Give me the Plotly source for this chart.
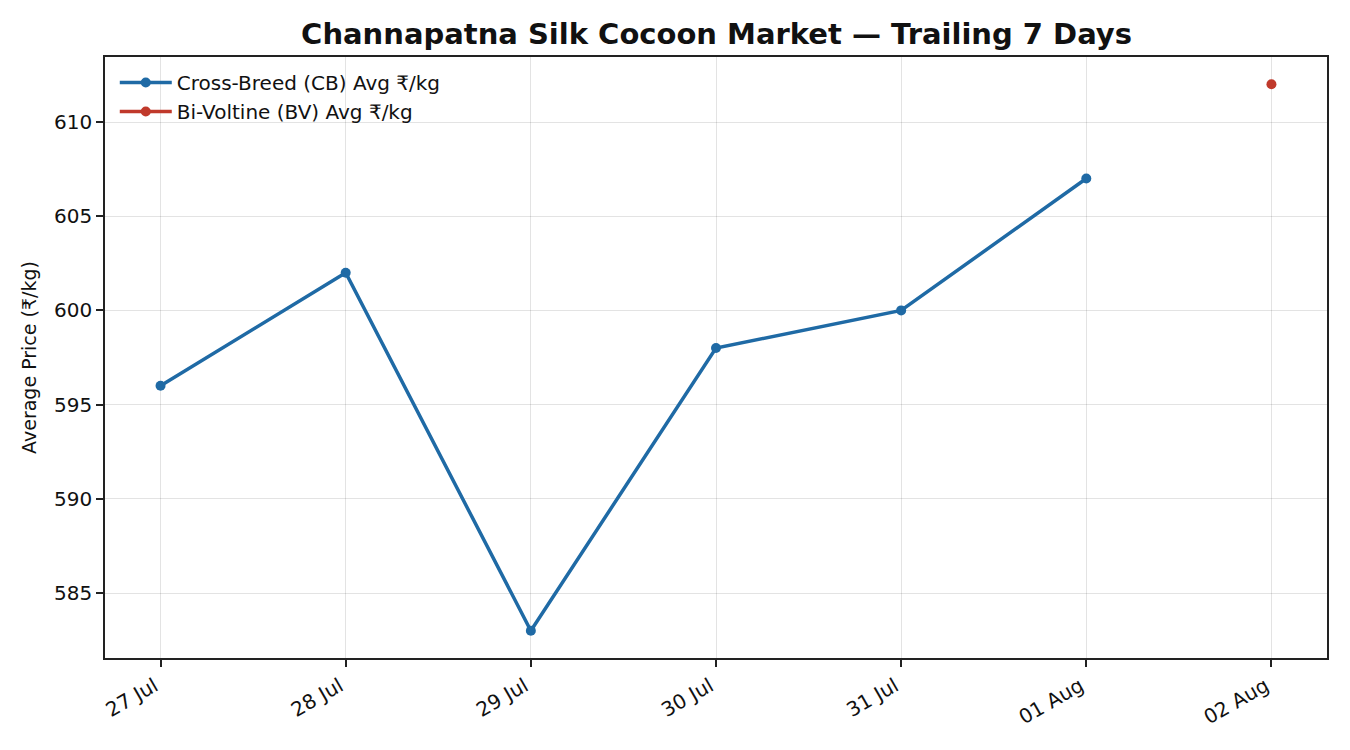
import plotly.graph_objects as go

dates = ["2024-07-27", "2024-07-28", "2024-07-29", "2024-07-30",
         "2024-07-31", "2024-08-01", "2024-08-02"]
cb_avg = [596, 602, 583, 598, 600, 607, None]
bv_avg = [None, None, None, None, None, None, 612]

blue = "#1f6aa5"
red = "#c0392b"

fig = go.Figure()
fig.add_trace(go.Scatter(x=dates, y=cb_avg, mode="lines+markers",
                         name="Cross-Breed (CB) Avg ₹/kg",
                         line=dict(color=blue, width=3.5),
                         marker=dict(color=blue, size=10)))
fig.add_trace(go.Scatter(x=dates, y=bv_avg, mode="lines+markers",
                         name="Bi-Voltine (BV) Avg ₹/kg",
                         line=dict(color=red, width=3.5),
                         marker=dict(color=red, size=10)))

axis_common = dict(showline=True, linecolor="#222", linewidth=1.5, mirror=True,
                   ticks="outside", ticklen=7, tickwidth=1.5, tickcolor="#222",
                   showgrid=True, gridcolor="rgba(0,0,0,0.11)", gridwidth=1,
                   zeroline=False, tickfont=dict(size=20, color="#111"))

# the page body has an 8px margin, so the figure is a bit smaller
fig.update_layout(
    width=1342, height=742,
    paper_bgcolor="white", plot_bgcolor="white",
    font=dict(family="DejaVu Sans", color="#111"),
    margin=dict(l=97, r=23, t=49, b=92),
    title=dict(text="<b>Channapatna Silk Cocoon Market — Trailing 7 Days</b>",
               x=0.528, xanchor="center", y=0.965, yanchor="middle",
               font=dict(size=29, color="#111")),
    legend=dict(x=0.008, y=0.99, xanchor="left", yanchor="top",
                bgcolor="rgba(255,255,255,0)", font=dict(size=20),
                itemwidth=52, tracegroupgap=0),
    showlegend=True,
)
fig.update_xaxes(type="date", tickformat="%d %b", dtick=86400000,
                 tick0="2024-07-27", tickangle=-30, ticklabelshift=-6,
                 range=["2024-07-26 16:48", "2024-08-02 07:12"], **axis_common)
fig.update_yaxes(range=[581.55, 613.45], dtick=5, tick0=585,
                 title=dict(text="Average Price (₹/kg)", font=dict(size=19), standoff=12),
                 **axis_common)

fig.write_html("out.html")
